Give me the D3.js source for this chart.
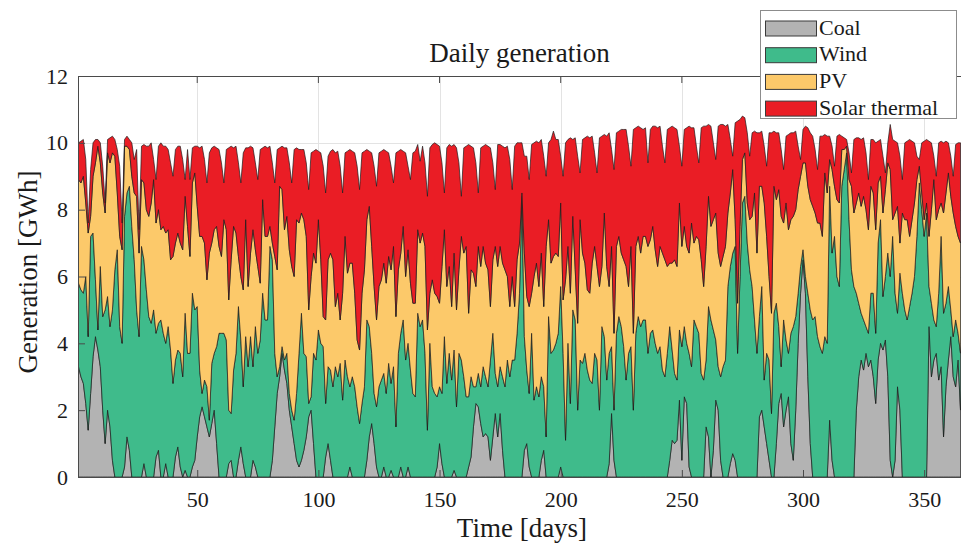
<!DOCTYPE html>
<html><head><meta charset="utf-8">
<script src="https://cdn.jsdelivr.net/npm/d3@7"></script>
<style>
body{margin:0;background:#fff;}
svg{display:block;}
</style>
</head><body>
<svg id="chart" width="961" height="548"></svg>
<script>
const coal = [
3.3,3.0,2.8,2.2,1.4,2.5,3.6,4.2,3.8,3.3,
2.0,1.0,2.0,1.5,0.5,0,0,0,0,0.3,
1.2,0.8,0,0,0,0,0,0.4,0,0,
0,0,0.6,0.8,0,0,0.4,0,0,0,
0.6,0.9,0.3,0,0.2,0,0,0.3,0.5,1.2,
1.8,2.1,1.8,1.5,1.2,1.6,2.0,1.0,0,0,
0,0,0.4,0.5,0,0,0.5,0.9,0.4,0,
0,0,0.5,0.3,0,0,0,0,0,0,
0.5,1.5,2.5,3.0,3.7,3.2,2.8,2.0,1.5,1.0,
0.5,0.3,0.5,0.8,1.2,1.8,2.0,1.0,0,0,
0,0,0.6,1.0,0.5,0,0,0,0,0,
0,0,0.3,0,0,0,0,0,0,0.5,
1.2,1.6,1.0,0.3,0,0,0.3,0,0,0.2,
0,0,0,0.3,0,0,0.3,0,0,0,
0,0,0,0,0,0,0,0,0.3,1.0,
0.4,0,0,0,0,0.2,0,0,0,0,
0,0.3,0.6,1.5,2.2,2.1,1.6,1.2,1.3,1.2,
0.5,1.2,1.9,1.2,1.9,0.8,0,0,0,0,
0,0,0,0,0.8,1.0,0.3,0,0,0,
0,0.5,0.8,0,0,0,0,0,0,0.3,
0,0,0,0,0,0,0,0,0,0,
0,0,0,0,0,0,0,0,0,0.4,
1.9,0.5,0,0,0,0,0,0,0,0,
0,0,0,0,0,0,0,0,0,0,
0,0,0,0,0.5,1.1,1.0,1.1,2.3,0.5,
2.4,2.2,0.3,0,0,0,0,0,0,1.5,
1.2,0,0.8,2.3,2.0,0.5,0,0,0,0.4,
0.7,0.5,0,0,0,0,0,0,0,0,
0,1.8,2.0,1.5,1.0,0.5,0,0,1.0,2.2,
2.5,1.5,2.0,2.4,1.0,0.5,2.0,4.0,5.5,6.5,
5.5,3.0,1.0,0,0,0,0,0,0,0,
1.7,0.5,0,0,0,0,0,0,0,0,
0,2.0,3.0,3.5,3.2,3.7,3.3,3.5,3.0,2.2,
3.5,4.0,3.8,4.1,3.0,0.5,0,0.5,2.7,2.0,
0,0,0,0,0,0,0,0,0,0,
0,4.5,3.0,3.5,3.7,2.9,3.3,1.2,2.7,3.5,
4.2,3.0,2.7,3.5,2.0];

const wind = [
2.5,2.6,2.7,3.8,2.8,4.7,3.7,1.7,0.6,3.0,
2.8,4.0,3.4,3.0,4.5,6.2,6.8,4.5,4.0,7.5,
7.3,7.9,7.5,6.5,5.0,4.2,6.9,6.1,5.6,4.8,
4.6,5.0,3.7,3.8,4.7,4.3,3.6,4.5,3.8,2.8,
2.9,2.9,3.4,3.0,4.7,3.7,3.7,5.2,4.5,3.9,
1.4,0.4,1.1,1.2,0.5,1.8,1.7,2.9,4.3,4.3,
4.3,4.1,1.6,1.4,3.2,3.7,4.6,3.2,2.3,4.2,
3.3,4.2,2.8,4.2,3.7,4.1,5.5,4.7,4.7,6.9,
6.0,2.2,0.5,0.3,0.2,0.3,0.9,0.5,0.5,0.7,
2.0,3.4,4.4,2.9,2.4,0.4,0.4,2.7,3.5,4.4,
4.0,3.9,1.6,2.3,2.7,2.7,3.3,3.0,3.4,2.3,
3.5,3.0,2.4,3.0,2.7,2.1,1.6,2.2,2.7,4.2,
3.3,2.1,1.5,1.8,2.7,2.9,2.8,2.5,3.4,2.6,
3.3,1.5,3.7,4.0,4.7,3.5,3.7,3.2,2.5,2.4,
4.9,4.5,4.7,3.7,1.4,4.0,2.7,2.5,2.1,1.7,
2.1,4.2,2.8,3.7,2.9,3.6,2.1,3.7,3.5,3.0,
2.4,2.1,2.4,1.2,0.5,1.0,1.1,2.1,1.7,1.5,
3.0,3.1,1.2,1.5,1.4,2.2,2.7,3.5,3.0,3.5,
3.5,4.3,5.5,8.4,3.4,2.2,2.2,4.3,2.3,2.7,
2.4,2.5,1.9,1.2,4.8,3.7,3.8,4.0,4.3,5.4,
3.7,1.1,4.0,2.2,5.0,4.7,2.0,3.5,3.4,3.7,
3.2,2.9,2.8,3.7,3.5,2.0,4.5,4.2,2.9,3.3,
2.0,1.5,4.3,4.8,4.5,3.9,2.9,3.7,3.9,2.0,
4.3,4.8,4.5,4.7,4.7,3.7,4.3,4.4,4.0,3.7,
3.9,3.2,3.0,3.7,4.0,2.7,2.1,1.8,2.1,3.4,
2.1,1.8,3.4,3.3,4.7,4.5,4.3,3.1,2.9,2.0,
3.9,4.7,3.6,1.8,1.3,2.5,3.3,3.5,5.7,5.9,
6.0,6.4,3.7,6.0,8.2,8.4,7.0,6.2,5.7,4.7,
3.7,3.0,3.7,1.4,2.7,3.0,1.9,4.9,4.2,2.3,
0.8,3.2,2.1,1.3,3.3,4.0,2.8,1.5,0.8,0.3,
0.5,2.5,4.0,4.7,4.8,4.2,3.9,3.7,4.2,4.0,
7.0,6.2,7.2,6.0,5.7,8.7,9.2,9.7,7.7,6.2,
5.7,3.5,2.2,1.4,1.5,0.8,1.0,2.0,2.5,2.1,
3.5,3.7,1.6,1.9,3.7,5.5,7.2,5.0,2.2,4.1,
5.5,5.0,4.7,5.1,5.5,6.0,7.2,8.8,8.0,7.2,
7.9,1.2,2.2,1.2,0.8,2.6,3.9,3.7,2.5,2.2,
0.8,1.2,2.0,0.8,1.7];

const pv = [
3.1,3.2,3.5,2.2,3.1,0.6,1.7,3.5,5.5,3.1,
3.7,2.9,4.3,4.9,4.7,3.4,1.7,2.7,2.8,2.1,
1.4,1.1,1.5,2.0,3.4,2.5,2.0,2.3,2.4,3.0,
3.6,3.9,3.3,3.4,2.7,3.2,3.3,2.9,2.7,3.8,
3.5,3.5,3.3,3.8,3.5,3.8,2.9,3.3,4.1,3.0,
4.0,4.7,4.1,3.2,5.0,3.6,3.7,3.6,2.6,2.3,
3.4,3.3,3.3,4.6,4.3,3.6,1.5,1.9,2.9,3.5,
2.4,2.5,4.1,2.3,2.6,1.7,2.8,2.5,2.5,0.6,
0.5,2.9,3.2,5.4,4.7,3.9,4.1,4.3,4.3,4.3,
5.2,3.9,3.0,4.0,3.6,2.8,3.6,3.0,2.9,3.3,
2.5,0.9,2.5,3.2,3.5,3.8,1.8,2.5,1.3,3.2,
3.7,3.1,3.7,3.4,2.8,2.0,2.2,3.3,3.5,3.0,
3.6,3.2,3.2,2.6,3.0,3.0,3.3,3.3,3.2,3.4,
3.6,3.3,2.5,2.4,2.8,2.5,2.8,2.6,2.7,2.8,
2.5,2.5,2.6,3.2,3.0,1.5,3.2,3.0,3.0,2.5,
3.8,3.2,2.9,2.6,2.2,2.9,2.9,2.5,3.7,3.7,
4.5,2.5,3.2,3.4,3.0,3.8,3.6,3.6,3.4,3.5,
1.6,2.2,3.8,3.6,3.6,3.4,3.5,2.5,2.1,2.5,
1.6,2.2,1.5,0.1,2.5,2.2,2.6,1.2,3.7,3.7,
3.3,3.7,2.4,5.7,2.9,2.7,2.8,2.7,2.3,2.5,
1.6,4.8,2.9,3.3,2.8,1.5,2.6,4.2,3.3,2.7,
2.4,2.6,3.6,3.2,2.8,3.7,1.8,3.7,3.4,2.0,
3.0,2.3,2.6,2.4,2.2,2.6,3.4,2.0,3.0,2.3,
2.6,2.4,2.2,2.5,2.5,3.2,2.8,3.1,2.8,2.6,
3.0,3.5,3.5,2.6,1.9,2.6,3.4,3.4,3.8,3.0,
3.0,2.9,3.0,4.3,2.3,2.7,2.8,3.4,2.8,3.4,
3.3,2.8,3.3,3.8,3.4,3.3,3.3,3.4,2.2,2.2,
2.5,0.8,1.5,1.5,1.3,1.3,1.2,1.5,2.1,3.8,
3.0,3.9,3.0,5.3,3.5,2.5,3.0,3.8,3.1,4.1,
4.5,2.9,4.1,3.7,3.4,3.3,3.2,3.1,2.7,2.6,
3.4,3.2,3.3,3.4,3.1,3.4,3.7,3.5,4.9,4.5,
0.8,2.5,1.5,2.3,2.5,1.1,0.6,0.2,1.2,2.5,
2.2,2.7,3.3,3.2,3.7,3.5,3.1,3.2,3.0,3.1,
1.8,1.3,2.5,2.6,2.7,3.2,0.5,2.4,3.2,0.9,
2.4,2.7,3.0,2.1,2.2,2.2,1.7,0.5,0.5,0.5,
0.3,1.5,2.8,4.2,3.2,2.5,1.0,3.0,3.3,3.4,
3.4,3.7,2.8,2.9,3.3];

const solarThermal = [
1.1,1.25,1.1,1.3,0.3,1.4,1.0,0.7,0.2,0.6,
0.8,0.3,0.4,0.75,0.5,0.5,1.3,2.1,0.8,0.2,
0.3,0.3,1.0,1.0,1.4,0.7,1.0,1.15,1.9,2.1,
1.8,0.6,1.3,1.9,2.6,2.4,2.6,2.4,2.9,2.4,
2.8,2.6,2.9,2.7,0.5,2.3,2.3,1.05,0.8,1.8,
2.65,2.7,2.5,2.9,3.0,2.85,2.5,2.35,2.9,2.8,
1.1,2.4,4.55,3.4,2.35,2.6,2.8,2.8,4.1,2.15,
4.15,3.2,2.45,2.6,2.6,4.0,1.55,2.7,2.65,2.4,
2.4,2.2,3.6,1.15,1.3,2.45,2.05,2.6,2.5,3.8,
2.15,2.2,1.9,2.1,2.2,3.6,3.7,3.05,3.4,2.05,
3.2,4.5,3.8,3.1,3.05,3.3,4.6,4.25,4.6,3.0,
2.5,3.65,3.4,3.35,4.2,5.2,4.8,4.2,3.55,2.1,
1.65,2.8,3.6,4.0,4.0,3.85,3.4,3.95,3.1,3.1,
1.9,4.9,3.55,3.1,2.25,3.7,2.5,3.1,4.5,4.55,
2.55,2.45,2.6,2.5,4.0,4.35,4.05,4.5,4.55,4.7,
3.1,1.1,4.15,3.65,4.8,3.25,4.85,3.2,1.2,3.15,
3.0,5.05,3.7,3.75,3.7,1.6,3.55,3.0,3.55,3.7,
4.75,2.9,1.7,3.65,3.05,3.5,3.65,3.9,4.4,2.6,
4.8,3.5,3.0,1.5,2.9,4.2,3.8,4.45,4.0,3.65,
4.3,3.4,4.5,2.1,2.3,3.7,3.75,3.4,3.5,1.4,
3.7,4.1,3.2,4.65,2.3,3.95,5.0,1.4,3.4,3.75,
4.6,4.65,3.8,2.8,2.8,4.45,3.9,2.35,3.9,4.6,
2.9,4.9,3.4,3.15,3.7,3.9,4.1,4.2,2.4,6.1,
3.55,3.3,3.75,3.2,3.25,2.5,3.3,3.0,3.7,4.15,
3.6,3.2,2.9,4.1,4.05,4.1,3.95,4.1,1.7,2.4,
2.9,3.55,3.8,2.85,3.45,2.7,2.3,3.95,4.8,3.6,
2.15,3.0,2.3,1.6,3.8,4.25,3.95,3.6,2.65,1.6,
0.4,2.9,5.45,3.2,1.3,1.05,2.1,1.9,2.5,1.85,
3.6,1.6,1.65,1.7,2.1,4.3,5.4,1.65,2.0,1.7,
2.0,1.6,2.0,2.85,2.6,2.5,2.35,1.3,0.5,1.0,
1.1,1.75,2.0,2.1,1.9,1.6,2.6,3.0,1.15,1.7,
0.7,0.7,0.6,1.9,2.05,0.4,0.35,0.2,0.8,0.4,
2.2,1.95,1.65,2.0,1.75,1.7,1.5,1.4,1.6,2.6,
1.25,1.1,1.7,0.5,0.6,1.35,2.4,2.15,1.9,2.6,
1.0,2.3,2.35,2.9,2.35,1.8,0.7,0.2,1.5,2.35,
1.9,2.85,2.0,0.7,1.3,2.0,1.85,2.1,1.55,0.9,
1.2,1.1,2.45,2.8,3.0];

const seriesNames = ["Coal", "Wind", "PV", "Solar thermal"];
const seriesColors = ["#b3b3b3", "#3fbb8b", "#fcc96a", "#ea1d25"];
const xTicks = [50, 100, 150, 200, 250, 300, 350];
const yTicks = [0, 2, 4, 6, 8, 10, 12];
const titleText = "Daily generation";
const xLabelText = "Time [days]";
const yLabelText = "Generation [GWh]";

const FONT = '"Liberation Serif","DejaVu Serif","Times New Roman",Times,serif';
const svg = d3.select("#chart");
const x = d3.scaleLinear().domain([1, 365]).range([78.5, 960.5]);
const y = d3.scaleLinear().domain([0, 12]).range([477, 76]);

const n = Math.min(coal.length, wind.length, pv.length, solarThermal.length);
const rows = d3.range(n).map(i => ({
  day: i + 1,
  "Coal": coal[i], "Wind": wind[i], "PV": pv[i], "Solar thermal": solarThermal[i]
}));
const layers = d3.stack().keys(seriesNames)(rows);

svg.append("defs").append("clipPath").attr("id", "clip")
  .append("rect").attr("x", 78).attr("y", 76).attr("width", 883).attr("height", 401);

// grid
const grid = svg.append("g").attr("stroke", "#e3e3e3").attr("stroke-width", 1);
xTicks.forEach(t => grid.append("line")
  .attr("x1", Math.round(x(t)) + 0.5).attr("x2", Math.round(x(t)) + 0.5)
  .attr("y1", 76).attr("y2", 477));
yTicks.forEach(t => grid.append("line")
  .attr("x1", 78).attr("x2", 961)
  .attr("y1", Math.round(y(t)) + 0.5).attr("y2", Math.round(y(t)) + 0.5));

const area = d3.area()
  .x(d => x(d.data.day))
  .y0(d => y(d[0]))
  .y1(d => y(d[1]));

svg.append("g").attr("clip-path", "url(#clip)")
  .selectAll("path").data(layers).join("path")
  .attr("d", area)
  .attr("fill", (d, i) => seriesColors[i])
  .attr("stroke", "#1c1c1c")
  .attr("stroke-width", 0.7)
  .attr("stroke-linejoin", "round");

// axes
const axisColor = "#4a4a4a";
const gx = svg.append("g").attr("transform", "translate(0,477)")
  .call(d3.axisBottom(x).tickValues(xTicks).tickSizeInner(-7).tickSizeOuter(0).tickPadding(14));
const gy = svg.append("g").attr("transform", "translate(78,0)")
  .call(d3.axisLeft(y).tickValues(yTicks).tickSizeInner(-7).tickSizeOuter(0).tickPadding(10));
[gx, gy].forEach(g => {
  g.attr("font-family", FONT).attr("font-size", 22);
  g.select(".domain").remove();
  g.selectAll(".tick line").attr("stroke", axisColor);
  g.selectAll(".tick text").style("font-family", FONT)
    .style("font-size", "22px").attr("fill", "#1a1a1a");
});
svg.append("g").selectAll("line").data(xTicks).join("line")
  .attr("x1", d => x(d)).attr("x2", d => x(d)).attr("y1", 76).attr("y2", 83)
  .attr("stroke", axisColor);

// box
const box = svg.append("g").attr("stroke", axisColor).attr("stroke-width", 1).attr("fill", "none");
box.append("line").attr("x1", 78).attr("x2", 961).attr("y1", 477.5).attr("y2", 477.5);
box.append("line").attr("x1", 78.5).attr("x2", 78.5).attr("y1", 76).attr("y2", 477.5);
box.append("line").attr("x1", 78).attr("x2", 961).attr("y1", 76.5).attr("y2", 76.5);

// title and labels
svg.append("text").attr("x", 519.5).attr("y", 62).attr("text-anchor", "middle")
  .style("font-family", FONT).style("font-size", "27px").attr("fill", "#1a1a1a").text(titleText);
svg.append("text").attr("x", 522).attr("y", 537).attr("text-anchor", "middle")
  .style("font-family", FONT).style("font-size", "27px").attr("fill", "#1a1a1a").text(xLabelText);
svg.append("text").attr("transform", "translate(37,272) rotate(-90)").attr("text-anchor", "middle")
  .style("font-family", FONT).style("font-size", "27px").attr("fill", "#1a1a1a").text(yLabelText);

// legend
const lg = svg.append("g");
lg.append("rect").attr("x", 760.5).attr("y", 10.5).attr("width", 196).attr("height", 108)
  .attr("fill", "#fff").attr("stroke", "#8c8c8c").attr("stroke-width", 1);
seriesNames.forEach((name, i) => {
  const cy = 28.5 + i * 26.7;
  lg.append("rect").attr("x", 765.5).attr("y", cy - 7.5).attr("width", 51).attr("height", 15)
    .attr("fill", seriesColors[i]).attr("stroke", "#3a3a3a").attr("stroke-width", 1);
  lg.append("text").attr("x", 819).attr("y", cy + 6).style("font-family", FONT)
    .style("font-size", "22px").attr("fill", "#1a1a1a").text(name);
});
</script>
</body></html>
